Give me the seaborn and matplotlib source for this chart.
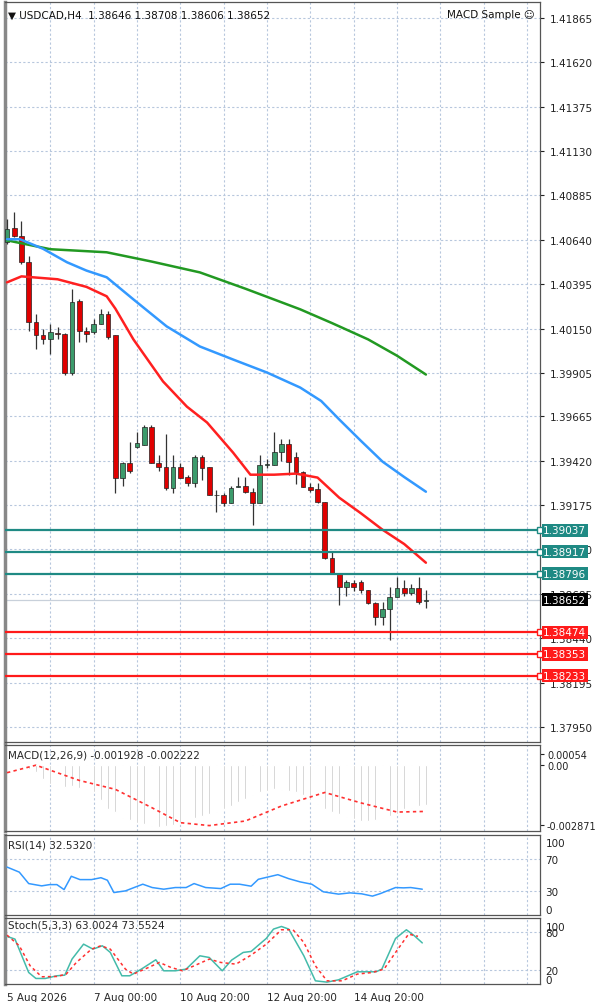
import numpy as np
import pandas as pd
import seaborn as sns
import matplotlib.pyplot as plt
from matplotlib.patches import Rectangle

# --- candle data (H4, 59 bars) ---
opens = [1.40626, 1.40704, 1.40659, 1.40516, 1.40184, 1.40112, 1.40090, 1.40123, 1.40118, 1.39907,
         1.40300, 1.40134, 1.40129, 1.40173, 1.40228, 1.40112, 1.39327, 1.39410, 1.39498, 1.39509,
         1.39609, 1.39410, 1.39388, 1.39271, 1.39388, 1.39332, 1.39299, 1.39438, 1.39388, 1.39233,
         1.39233, 1.39189, 1.39277, 1.39283, 1.39249, 1.39189, 1.39399, 1.39399, 1.39471, 1.39515,
         1.39443, 1.39360, 1.39277, 1.39265, 1.39194, 1.38884, 1.38801, 1.38724, 1.38746, 1.38752,
         1.38707, 1.38635, 1.38558, 1.38602, 1.38669, 1.38718, 1.38691, 1.38718, 1.38646]
closes = [1.40698, 1.40659, 1.40516, 1.40184, 1.40112, 1.40090, 1.40129, 1.40118, 1.39907, 1.40295,
          1.40134, 1.40118, 1.40173, 1.40228, 1.40101, 1.39327, 1.39410, 1.39366, 1.39520, 1.39609,
          1.39410, 1.39388, 1.39271, 1.39388, 1.39327, 1.39299, 1.39438, 1.39382, 1.39233, 1.39230,
          1.39189, 1.39271, 1.39283, 1.39249, 1.39189, 1.39399, 1.39400, 1.39471, 1.39515, 1.39415,
          1.39360, 1.39277, 1.39260, 1.39194, 1.38884, 1.38801, 1.38724, 1.38752, 1.38724, 1.38707,
          1.38635, 1.38558, 1.38602, 1.38669, 1.38718, 1.38691, 1.38718, 1.38641, 1.38652]
highs = [1.40754, 1.40792, 1.40743, 1.40549, 1.40228, 1.40145, 1.40173, 1.40160, 1.40123, 1.40366,
         1.40311, 1.40160, 1.40201, 1.40260, 1.40245, 1.40112, 1.39415, 1.39526, 1.39580, 1.39620,
         1.39620, 1.39454, 1.39565, 1.39454, 1.39410, 1.39343, 1.39449, 1.39449, 1.39388, 1.39260,
         1.39240, 1.39283, 1.39330, 1.39330, 1.39270, 1.39454, 1.39430, 1.39580, 1.39540, 1.39540,
         1.39470, 1.39365, 1.39299, 1.39299, 1.39194, 1.38918, 1.38801, 1.38763, 1.38763, 1.38763,
         1.38707, 1.38641, 1.38641, 1.38724, 1.38779, 1.38763, 1.38741, 1.38779, 1.38708]
lows = [1.40615, 1.40654, 1.40505, 1.40134, 1.40035, 1.40062, 1.40012, 1.40090, 1.39896, 1.39896,
        1.40073, 1.40073, 1.40118, 1.40173, 1.40090, 1.39244, 1.39280, 1.39355, 1.39490, 1.39509,
        1.39410, 1.39366, 1.39260, 1.39244, 1.39327, 1.39283, 1.39277, 1.39315, 1.39233, 1.39139,
        1.39170, 1.39189, 1.39277, 1.39244, 1.39067, 1.39189, 1.39380, 1.39399, 1.39420, 1.39343,
        1.39290, 1.39277, 1.39249, 1.39189, 1.38880, 1.38800, 1.38624, 1.38674, 1.38700, 1.38691,
        1.38630, 1.38514, 1.38514, 1.38431, 1.38669, 1.38674, 1.38680, 1.38630, 1.38606]

# moving averages (read at some bars)
ma_red_i = [0, 2, 7, 11, 13.8, 15, 17.5, 21.6, 24.9, 27.7, 31.3, 33.7, 37, 40, 43, 46, 49, 52, 55, 58]
ma_red = [1.40405, 1.40438, 1.40422, 1.40380, 1.40328, 1.40260, 1.40090, 1.39858, 1.39719, 1.39631,
          1.39465, 1.39343, 1.39343, 1.39349, 1.39327, 1.39216, 1.39130, 1.39039, 1.38960, 1.38857]
ma_blue_i = [0, 1.8, 5, 8.3, 11, 13.8, 17.5, 22.1, 26.7, 31.3, 36, 40.6, 43.5, 46, 49, 52, 55, 58]
ma_blue = [1.40643, 1.40643, 1.40590, 1.40516, 1.40470, 1.40433, 1.40311, 1.40162, 1.40051, 1.39979,
           1.39907, 1.39824, 1.39750, 1.39648, 1.39530, 1.39415, 1.39330, 1.39249]
ma_green_i = [0, 6, 13.8, 20, 26.7, 33, 40.6, 45, 50, 54, 58]
ma_green = [1.40637, 1.40588, 1.40571, 1.40520, 1.40460, 1.40370, 1.40256, 1.40180, 1.40090, 1.40000, 1.39896]

res_levels = [1.39037, 1.38917, 1.38796]
sup_levels = [1.38474, 1.38353, 1.38233]
last_price = 1.38652

price_ticks = [1.41865, 1.41620, 1.41375, 1.41130, 1.40885, 1.40640, 1.40395, 1.40150, 1.39905,
               1.39665, 1.39420, 1.39175, 1.38930, 1.38685, 1.38440, 1.38195, 1.37950]

# MACD (x1e-3)
macd_hist = [-0.03, -0.06, -0.09, -0.17, -0.32, -0.65, -0.90, -1.16, -1.04, -1.02, -1.09, -1.16, -1.31,
             -1.67, -2.10, -2.25, -2.54, -2.64, -2.76, -2.84, -2.93, -2.96, -2.93, -2.87, -2.76, -2.67,
             -2.55, -2.44, -2.35, -2.23, -2.10, -1.96, -1.77, -1.60, -1.45, -1.31, -1.23, -1.16, -1.19,
             -1.23, -1.31, -1.45, -1.67, -1.86, -2.10, -2.25, -2.35, -2.49, -2.58, -2.67, -2.68, -2.65,
             -2.54, -2.44, -2.35, -2.12, -2.05, -1.98, -1.93]
macd_sig_i = [0, 4, 10, 15, 20, 24, 28, 33, 38, 44, 49, 54, 58]
macd_sig = [-0.36, 0.0, -0.73, -1.16, -2.03, -2.76, -2.90, -2.68, -1.96, -1.31, -1.81, -2.25, -2.22]

# RSI(14)
rsi_i = [0, 1.7, 3, 4.8, 5.9, 6.9, 7.9, 8.9, 10.1, 11.7, 13, 13.9, 14.8, 16.4, 18.8, 20.1, 21.7, 23.3,
         24.8, 25.9, 27.5, 29.6, 30.9, 32.2, 33.8, 34.8, 37.5, 39, 40.6, 42.2, 43.8, 45.9, 47.5, 49.1,
         50.6, 51.7, 53.8, 54.9, 55.9, 57.5]
rsi = [60.4, 54.0, 39.6, 36.7, 38.3, 38.3, 32.0, 48.8, 44.6, 44.6, 47.0, 43.8, 28.3, 30.4, 38.8, 34.6,
       32.5, 34.6, 34.6, 39.6, 34.6, 33.3, 38.8, 38.8, 36.3, 45.0, 50.8, 45.8, 41.7, 38.8, 29.2, 26.3,
       27.9, 26.7, 23.8, 27.0, 34.6, 34.2, 34.6, 32.5]

# Stoch(5,3,3)
stk_i = [0, 1.1, 3, 4, 5.3, 6.9, 8, 9, 10.6, 11.9, 13.2, 14.3, 15.9, 17, 18.6, 20.6, 21.7, 23.3, 24.8,
         26.7, 28, 29.8, 31.1, 32.7, 33.8, 35.9, 36.9, 38, 39, 41.1, 42.7, 44.3, 45.9, 48.5, 51.1, 51.9,
         53.8, 55.3, 56.4, 57.5]
stk = [73.4, 69.1, 15.5, 5.9, 5.9, 10.2, 11.2, 37.0, 61.0, 53.0, 58.4, 47.7, 10.2, 10.2, 20.9, 35.9,
       18.2, 18.2, 20.9, 42.3, 39.6, 18.2, 35.4, 47.7, 49.3, 70.2, 85.2, 89.4, 85.2, 42.3, 2.1, 0.0,
       3.7, 16.6, 16.6, 20.9, 70.2, 84.1, 74.5, 63.0]
std_i = [0, 1.7, 3.2, 4.8, 6.9, 8.2, 9.6, 11.7, 13, 14.3, 16.4, 17.5, 19.6, 21.1, 22.7, 24.3, 25.9, 28,
         29.6, 31.7, 33.8, 35.9, 38, 39.6, 41.1, 42.7, 44.3, 46.4, 48.5, 50.6, 52.2, 53.8, 55.6, 56.9]
std = [75.5, 58.4, 26.2, 8.6, 9.1, 12.9, 31.6, 53.0, 58.4, 53.0, 20.9, 12.9, 23.6, 31.6, 23.6, 18.2,
       26.2, 37.0, 31.6, 28.9, 43.4, 61.0, 84.1, 84.1, 63.7, 26.2, 2.1, 2.1, 12.9, 15.5, 20.9, 47.7,
       77.1, 73.6]

date_ticks = [0, 12, 24, 36, 48]
date_labels = ["5 Aug 2026", "7 Aug 00:00", "10 Aug 20:00", "12 Aug 20:00", "14 Aug 20:00"]

sns.set_style("white")
plt.rcParams['font.family'] = ['DejaVu Sans']

W, H = 600, 1003
fig = plt.figure(figsize=(W / 100, H / 100), dpi=100)

def add_ax(y0, y1):
    return fig.add_axes([5 / W, 1 - y1 / H, 535 / W, (y1 - y0) / H])

ax = add_ax(3, 743)
ax_macd = add_ax(746, 832)
ax_rsi = add_ax(836, 916)
ax_sto = add_ax(919, 985)

grid_c = '#b7c7dd'
xlim = (-0.28, 73.8)
vgrid = np.arange(6, 74, 6)
for a in [ax, ax_macd, ax_rsi, ax_sto]:
    a.set_xlim(*xlim)
    for v in vgrid:
        a.axvline(v, color=grid_c, ls=(0, (2, 2)), lw=0.8, zorder=0)
    for s in a.spines.values():
        s.set_color('#555555')
        s.set_linewidth(0.9)
    a.spines['left'].set_linewidth(2.5)
    a.spines['left'].set_color('#888888')
    a.yaxis.tick_right()
    a.tick_params(axis='y', labelsize=7.5, length=3, pad=4, colors='#222222')
    a.tick_params(axis='x', length=0)
    a.set_xticks([])

# --- main candles ---
df = pd.DataFrame({'o': opens, 'h': highs, 'l': lows, 'c': closes})
df['i'] = np.arange(len(df))
ax.vlines(df['i'], df['l'], df['h'], color='#333333', lw=0.9, zorder=3)
for _, r in df.iterrows():
    up = r['c'] >= r['o']
    col = '#3c9b6c' if up else '#e00000'
    body = max(abs(r['c'] - r['o']), 0.00002)
    ax.add_patch(Rectangle((r['i'] - 0.32, min(r['o'], r['c'])), 0.64, body,
                           facecolor=col, edgecolor='#222222', lw=0.5, zorder=4))

sns.lineplot(x=ma_green_i, y=ma_green, ax=ax, color='#229922', lw=1.8, zorder=5)
sns.lineplot(x=ma_blue_i, y=ma_blue, ax=ax, color='#3399ff', lw=1.8, zorder=5)
sns.lineplot(x=ma_red_i, y=ma_red, ax=ax, color='#ff2020', lw=1.8, zorder=5)

ax.set_ylim(1.37867, 1.41953)
ax.set_yticks(price_ticks)
ax.set_yticklabels([f"{t:.5f}" for t in price_ticks])
for t in price_ticks:
    ax.axhline(t, color=grid_c, ls=(0, (2, 2)), lw=0.8, zorder=0)
ax.axhline(last_price, color='#c8d0da', lw=0.9, zorder=1)

def level_box(a, y, text, fc, tc='white'):
    a.axhline(y, color=fc, lw=1.6, zorder=6)
    a.plot([73.8], [y], marker='s', ms=4, mfc='white', mec=fc, clip_on=False, zorder=7)
    a.text(1.006, y, text, transform=a.get_yaxis_transform(), fontsize=7.5, color=tc,
           va='center', ha='left', zorder=8,
           bbox=dict(boxstyle='square,pad=0.15', fc=fc, ec='none'))

for lv in res_levels:
    level_box(ax, lv, f"{lv:.5f}", '#1f8a84')
for lv in sup_levels:
    level_box(ax, lv, f"{lv:.5f}", '#ff1a1a')
ax.text(1.006, last_price, f"{last_price:.5f}", transform=ax.get_yaxis_transform(), fontsize=7.5,
        color='white', va='center', ha='left', zorder=8,
        bbox=dict(boxstyle='square,pad=0.15', fc='black', ec='none'))

ax.text(0.005, 0.99, "\u25bc USDCAD,H4  1.38646 1.38708 1.38606 1.38652", transform=ax.transAxes,
        fontsize=7.5, va='top', ha='left', color='#111111')
ax.text(0.99, 0.99, "MACD Sample \u263a", transform=ax.transAxes,
        fontsize=7.5, va='top', ha='right', color='#111111')

# --- MACD ---
ax_macd.bar(np.arange(len(macd_hist)), np.array(macd_hist) * 1e-3, width=0.25, color='#c0c0c0', zorder=2)
sns.lineplot(x=macd_sig_i, y=np.array(macd_sig) * 1e-3, ax=ax_macd, color='#ff3030',
             lw=1.2, ls=(0, (2, 2)), zorder=3)
ax_macd.set_ylim(-0.00316, 0.00097)
ax_macd.set_yticks([0.00054, 0.0, -0.002871])
ax_macd.set_yticklabels(["0.00054", "0.00", "-0.002871"])
ax_macd.tick_params(axis='y', labelsize=7, pad=2)
ax_macd.text(0.005, 0.95, "MACD(12,26,9) -0.001928 -0.002222", transform=ax_macd.transAxes,
             fontsize=7.5, va='top', ha='left')

# --- RSI ---
sns.lineplot(x=rsi_i, y=rsi, ax=ax_rsi, color='#3399ff', lw=1.1, zorder=3)
ax_rsi.set_ylim(0, 100.8)
for v in [70, 30]:
    ax_rsi.axhline(v, color=grid_c, ls=(0, (2, 2)), lw=0.8, zorder=0)
ax_rsi.set_yticks([92, 70, 30, 8])
ax_rsi.set_yticklabels(["100", "70", "30", "0"])
ax_rsi.tick_params(axis='y', length=0)
ax_rsi.text(0.005, 0.95, "RSI(14) 32.5320", transform=ax_rsi.transAxes, fontsize=7.5, va='top', ha='left')

# --- Stochastic ---
sns.lineplot(x=stk_i, y=stk, ax=ax_sto, color='#44bbaa', lw=1.1, zorder=3)
sns.lineplot(x=std_i, y=std, ax=ax_sto, color='#ff3030', lw=1.1, ls=(0, (2, 2)), zorder=3)
ax_sto.set_ylim(-3, 103)
for v in [80, 20]:
    ax_sto.axhline(v, color=grid_c, ls=(0, (2, 2)), lw=0.8, zorder=0)
ax_sto.set_yticks([90, 80, 20, 5])
ax_sto.set_yticklabels(["100", "80", "20", "0"])
ax_sto.tick_params(axis='y', length=0)
ax_sto.text(0.005, 0.97, "Stoch(5,3,3) 63.0024 73.5524", transform=ax_sto.transAxes,
            fontsize=7.5, va='top', ha='left')

ax_sto.set_xticks(date_ticks)
ax_sto.set_xticklabels(date_labels, fontsize=7.5, ha='left')
ax_sto.tick_params(axis='x', length=3, pad=3)

for a in [ax, ax_macd, ax_rsi, ax_sto]:
    a.set_xlabel('')
    a.set_ylabel('')

fig.savefig('out.png', dpi=100, facecolor='white')
